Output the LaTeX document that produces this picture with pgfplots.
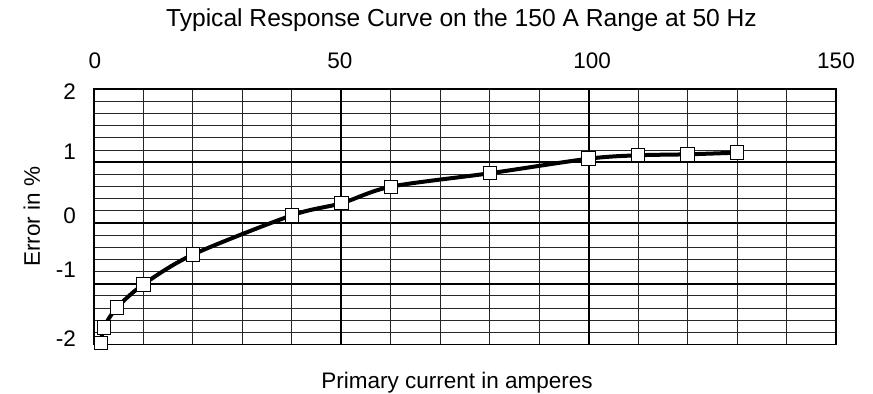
\documentclass[border=0pt]{standalone}
\usepackage{fontspec}
\setmainfont{Liberation Sans}
\usepackage{pgfplots}
\pgfplotsset{compat=1.18}
\begin{document}
\begin{tikzpicture}
\begin{axis}[
  name=ax,
  scale only axis,
  width=742bp, height=255.2bp,
  xmin=0, xmax=150, ymin=-2, ymax=2.2,
  axis line style={black, line width=1.8bp},
  major tick length=0pt, minor tick length=0pt,
  xtick={0.2,49.7,100.7,150},
  xticklabels={0,50,100,150},
  xticklabel pos=upper,
  xticklabel style={anchor=base, inner sep=0pt, yshift=20.3bp},
  ytick={-1.898,-0.774,0.115,1.173,2.156},
  yticklabels={{-2},{-1},{0},{1},{2}},
  yticklabel style={anchor=east, inner sep=0pt, xshift=-18bp},
  tick label style={font=\fontsize{22.5bp}{26bp}\selectfont},
  xmajorgrids=false, ymajorgrids=false,
  minor xtick={10,20,30,40,50,60,70,80,90,100,110,120,130,140},
  minor ytick={-1.8,-1.6,-1.4,-1.2,-1,-0.8,-0.6,-0.4,-0.2,0,0.2,0.4,0.6,0.8,1,1.2,1.4,1.6,1.8,2.0},
  xminorgrids=true, yminorgrids=true,
  minor grid style={black!85, line width=1bp},
  extra x ticks={50,100},
  extra x tick labels={},
  extra x tick style={grid=major, major grid style={black, line width=1.8bp}},
  extra y ticks={-1,0,1},
  extra y tick labels={},
  extra y tick style={grid=major, major grid style={black, line width=1.8bp}},
  clip mode=individual,
]
\addplot[black, line width=4bp, smooth, tension=0.5,
  mark=square*, mark size=6.7bp,
  mark options={fill=white, draw=black, line width=1bp, solid}]
coordinates {
  (1.4,-1.98) (2.0,-1.717) (4.7,-1.388) (10,-1.01) (20,-0.52)
  (40,0.126) (50,0.324) (60,0.597) (80,0.818) (100,1.058)
  (110,1.114) (120,1.13) (130,1.157)
};
\end{axis}
\node[anchor=base, inner sep=0pt, font=\fontsize{24.6bp}{28bp}\selectfont]
  at ([xshift=-3.5bp, yshift=62.6bp]ax.north) {Typical Response Curve on the 150 A Range at 50 Hz};
\node[anchor=base, inner sep=0pt, font=\fontsize{22.5bp}{27bp}\selectfont]
  at ([xshift=-8bp, yshift=-43.5bp]ax.south) {Primary current in amperes};
\node[anchor=base, inner sep=0pt, rotate=90, font=\fontsize{22.5bp}{27bp}\selectfont]
  at ([xshift=-54bp]ax.west) {Error in \%};
\pgfresetboundingbox
\path ([xshift=-94bp, yshift=-49.5bp]ax.south west) rectangle ([xshift=37bp, yshift=89.3bp]ax.north east);
\end{tikzpicture}
\end{document}
